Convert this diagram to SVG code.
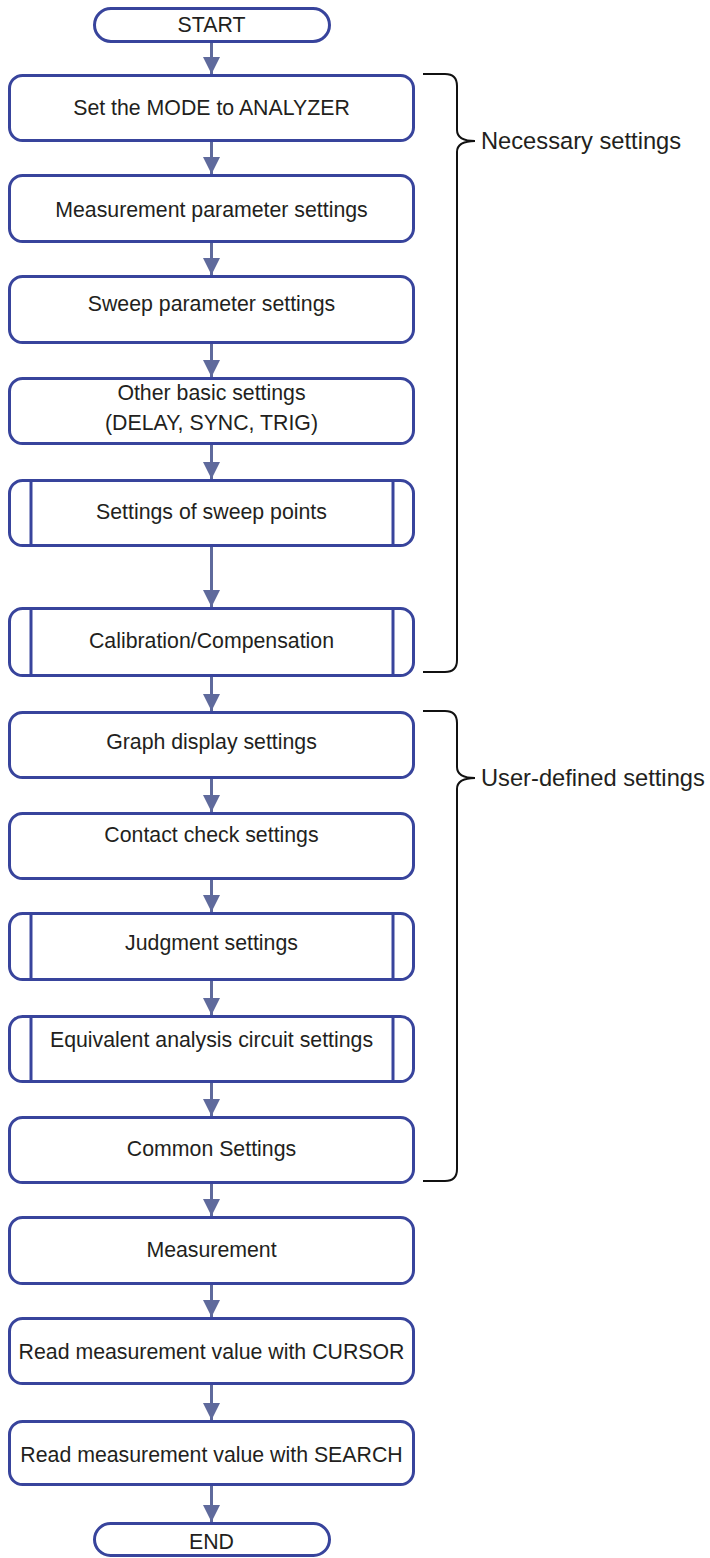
<svg xmlns="http://www.w3.org/2000/svg" width="710" height="1558" viewBox="0 0 710 1558">
<defs>
<style>
.box{fill:#fff;stroke:#38449c;stroke-width:3}
.sub{stroke:#38449c;stroke-width:3}
.t{font-family:"Liberation Sans",Arial,sans-serif;font-size:21.3px;fill:#231f20;text-anchor:middle}
.lbl{font-family:"Liberation Sans",Arial,sans-serif;font-size:23.7px;fill:#231f20}
.ln{stroke:#5f6a9c;stroke-width:3;fill:none}
.brace{stroke:#111;stroke-width:2;fill:none}
</style>
<marker id="ah" markerUnits="userSpaceOnUse" markerWidth="20" markerHeight="17" refX="20" refY="10" orient="auto" viewBox="0 0 20 20">
<path d="M0,0 L20,10 L0,20 Z" fill="#5f6a9c"/>
</marker>
</defs>
<rect width="710" height="1558" fill="#fff"/>
<g id="connectors">
<line class="ln" x1="211.5" y1="43" x2="211.5" y2="74" marker-end="url(#ah)"/>
<line class="ln" x1="211.5" y1="142" x2="211.5" y2="174" marker-end="url(#ah)"/>
<line class="ln" x1="211.5" y1="243" x2="211.5" y2="275" marker-end="url(#ah)"/>
<line class="ln" x1="211.5" y1="344" x2="211.5" y2="377" marker-end="url(#ah)"/>
<line class="ln" x1="211.5" y1="445" x2="211.5" y2="479" marker-end="url(#ah)"/>
<line class="ln" x1="211.5" y1="547" x2="211.5" y2="607" marker-end="url(#ah)"/>
<line class="ln" x1="211.5" y1="676" x2="211.5" y2="711" marker-end="url(#ah)"/>
<line class="ln" x1="211.5" y1="779" x2="211.5" y2="812" marker-end="url(#ah)"/>
<line class="ln" x1="211.5" y1="880" x2="211.5" y2="912" marker-end="url(#ah)"/>
<line class="ln" x1="211.5" y1="981" x2="211.5" y2="1015" marker-end="url(#ah)"/>
<line class="ln" x1="211.5" y1="1083" x2="211.5" y2="1116" marker-end="url(#ah)"/>
<line class="ln" x1="211.5" y1="1184" x2="211.5" y2="1216" marker-end="url(#ah)"/>
<line class="ln" x1="211.5" y1="1285" x2="211.5" y2="1317" marker-end="url(#ah)"/>
<line class="ln" x1="211.5" y1="1385" x2="211.5" y2="1420" marker-end="url(#ah)"/>
<line class="ln" x1="211.5" y1="1486" x2="211.5" y2="1522" marker-end="url(#ah)"/>
</g>
<g id="start"><rect class="box" x="94.5" y="8.5" width="235" height="33" rx="16.5"/><text class="t" x="211.5" y="32">START</text></g>
<g id="n1"><rect class="box" x="9.5" y="75.5" width="404" height="65" rx="13"/><text class="t" x="211.5" y="115">Set the MODE to ANALYZER</text></g>
<g id="n2"><rect class="box" x="9.5" y="175.5" width="404" height="66" rx="13"/><text class="t" x="211.5" y="217">Measurement parameter settings</text></g>
<g id="n3"><rect class="box" x="9.5" y="276.5" width="404" height="66" rx="13"/><text class="t" x="211.5" y="311">Sweep parameter settings</text></g>
<g id="n4"><rect class="box" x="9.5" y="378.5" width="404" height="65" rx="13"/><text class="t" x="211.5" y="400">Other basic settings</text><text class="t" x="211.5" y="430">(DELAY, SYNC, TRIG)</text></g>
<g id="n5"><rect class="box" x="9.5" y="480.5" width="404" height="65" rx="13"/><line class="sub" x1="31" y1="480.5" x2="31" y2="545.5"/><line class="sub" x1="393" y1="480.5" x2="393" y2="545.5"/><text class="t" x="211.5" y="519">Settings of sweep points</text></g>
<g id="n6"><rect class="box" x="9.5" y="608.5" width="404" height="67" rx="13"/><line class="sub" x1="31" y1="608.5" x2="31" y2="675.5"/><line class="sub" x1="393" y1="608.5" x2="393" y2="675.5"/><text class="t" x="211.5" y="648">Calibration/Compensation</text></g>
<g id="n7"><rect class="box" x="9.5" y="712.5" width="404" height="65" rx="13"/><text class="t" x="211.5" y="749">Graph display settings</text></g>
<g id="n8"><rect class="box" x="9.5" y="813.5" width="404" height="65" rx="13"/><text class="t" x="211.5" y="842">Contact check settings</text></g>
<g id="n9"><rect class="box" x="9.5" y="913.5" width="404" height="66" rx="13"/><line class="sub" x1="31" y1="913.5" x2="31" y2="979.5"/><line class="sub" x1="393" y1="913.5" x2="393" y2="979.5"/><text class="t" x="211.5" y="950">Judgment settings</text></g>
<g id="n10"><rect class="box" x="9.5" y="1016.5" width="404" height="65" rx="13"/><line class="sub" x1="31" y1="1016.5" x2="31" y2="1081.5"/><line class="sub" x1="393" y1="1016.5" x2="393" y2="1081.5"/><text class="t" x="211.5" y="1047">Equivalent analysis circuit settings</text></g>
<g id="n11"><rect class="box" x="9.5" y="1117.5" width="404" height="65" rx="13"/><text class="t" x="211.5" y="1156">Common Settings</text></g>
<g id="n12"><rect class="box" x="9.5" y="1217.5" width="404" height="66" rx="13"/><text class="t" x="211.5" y="1257">Measurement</text></g>
<g id="n13"><rect class="box" x="9.5" y="1318.5" width="404" height="65" rx="13"/><text class="t" x="211.5" y="1359">Read measurement value with CURSOR</text></g>
<g id="n14"><rect class="box" x="9.5" y="1421.5" width="404" height="63" rx="13"/><text class="t" x="211.5" y="1462">Read measurement value with SEARCH</text></g>
<g id="end"><rect class="box" x="94.5" y="1523.5" width="235" height="32" rx="16"/><text class="t" x="211.5" y="1549">END</text></g>
<g id="brace-necessary"><path class="brace" d="M423,74 H445 Q457,74 457,86 V130 Q457,141 475,141 Q457,141 457,152 V660 Q457,672 445,672 H423"/><text class="lbl" x="481" y="149">Necessary settings</text></g>
<g id="brace-user"><path class="brace" d="M423,711 H445 Q457,711 457,723 V767 Q457,778 475,778 Q457,778 457,789 V1169 Q457,1181 445,1181 H423"/><text class="lbl" x="481" y="786">User-defined settings</text></g>
</svg>
